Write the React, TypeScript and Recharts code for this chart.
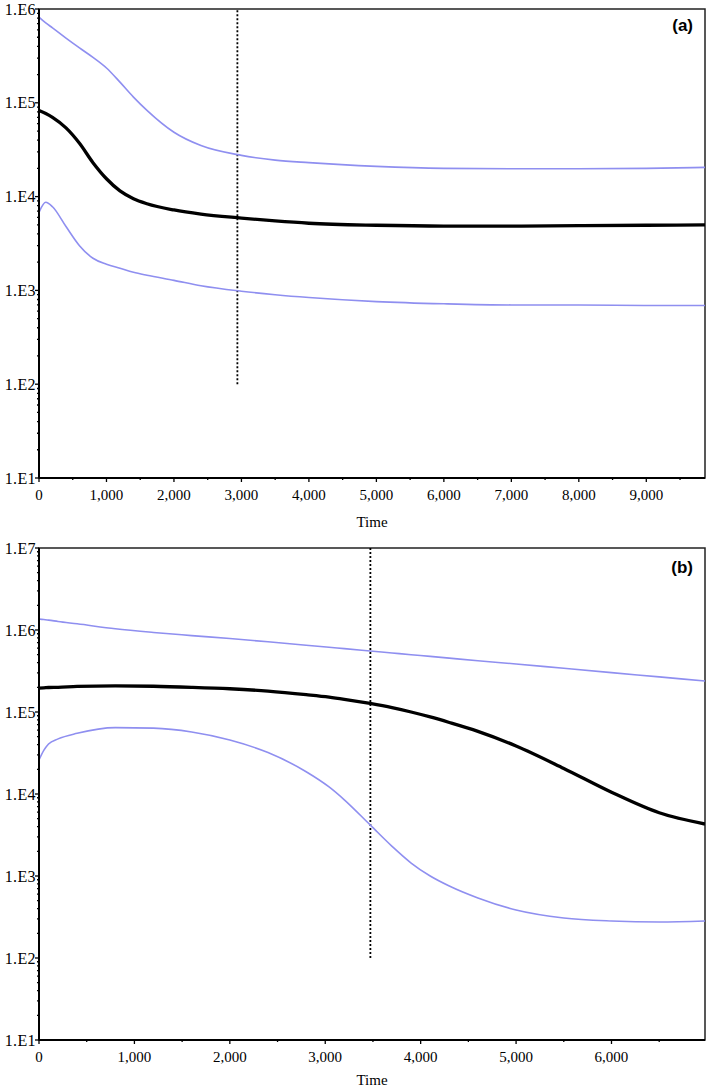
import React from "react";
import { LineChart, Line, XAxis, YAxis, ReferenceLine, ReferenceArea } from "recharts";

// panel (a)
const timeA = [0, 100, 200, 400, 600, 800, 1000, 1200, 1400, 1600, 2000, 2400, 3000, 3500, 4000, 5000, 6000, 7000, 8000, 9000, 9870];
const upperA = [820000, 710000, 630000, 490000, 385000, 305000, 235000, 166000, 115000, 83000, 48500, 35000, 27500, 24500, 23000, 21000, 20000, 19800, 19800, 20000, 20500];
const meanA = [83000, 77000, 70000, 54000, 37000, 23000, 15500, 11500, 9500, 8400, 7200, 6500, 5900, 5500, 5200, 4950, 4850, 4850, 4900, 4950, 5000];
const lowerA = [6800, 8700, 7800, 4800, 3000, 2200, 1900, 1720, 1560, 1450, 1280, 1120, 980, 900, 840, 760, 720, 700, 700, 690, 690];
const xTicksA = [0, 1000, 2000, 3000, 4000, 5000, 6000, 7000, 8000, 9000];
const xMaxA = 9870;
const markerA = 2940;

// panel (b)
const timeB = [0, 50, 100, 200, 400, 800, 1200, 1600, 2000, 2400, 2800, 3040, 3200, 3470, 3700, 3900, 4100, 4300, 4600, 5000, 5500, 6000, 6500, 6980];
const upperB = [1360000, 1340000, 1320000, 1270000, 1190000, 1035000, 933000, 855000, 786000, 718000, 653000, 615000, 593000, 555000, 525000, 500000, 477000, 454000, 422000, 385000, 341000, 302000, 268000, 239000];
const meanB = [196000, 197000, 199000, 200000, 205000, 208000, 206000, 200000, 192000, 180000, 163000, 152000, 143000, 127000, 113000, 100000, 87000, 74500, 58000, 38500, 20500, 10500, 5900, 4300];
const lowerB = [26000, 34000, 40700, 47000, 55000, 64500, 63500, 57000, 45500, 32000, 18700, 12200, 8500, 4200, 2300, 1440, 1000, 755, 540, 385, 308, 283, 275, 283];
const xTicksB = [0, 1000, 2000, 3000, 4000, 5000, 6000];
const xMaxB = 6980;
const markerB = 3473;

const yMajorA = [10, 100, 1000, 10000, 100000, 1000000];
const yMajorB = [10, 100, 1000, 10000, 100000, 1000000, 10000000];

const serif = "'Liberation Serif', 'Times New Roman', serif";
const blue = "#8f8ff0";

const withMinor = (majors: number[]) => {
	const out: number[] = [];
	majors.forEach((m, i) => {
		out.push(m);
		if (i < majors.length - 1) for (let k = 2; k <= 9; k++) out.push(m * k);
	});
	return out;
};

const withHalf = (majors: number[], max: number) => {
	const out: number[] = [];
	majors.forEach((m) => {
		out.push(m);
		if (m + 500 < max) out.push(m + 500);
	});
	return out;
};

const YTick = (props: any) => {
	const { x, y, payload } = props;
	const v = payload.value;
	const e = Math.round(Math.log10(v));
	const major = Math.abs(v - Math.pow(10, e)) < v * 1e-6;
	return (
		<g>
			<line x1={x - (major ? 4 : 2)} x2={x} y1={y} y2={y} stroke="#000" strokeWidth={1.3} />
			{major && (
				<text x={x - 3} y={y} dy="0.35em" textAnchor="end" fontFamily={serif} fontSize={16} letterSpacing={0.4} fill="#000">
					{`1.E${e}`}
				</text>
			)}
		</g>
	);
};

const XTick = (props: any) => {
	const { x, y, payload } = props;
	const v = payload.value;
	const major = v % 1000 === 0;
	return (
		<g>
			<line x1={x} x2={x} y1={y} y2={y + (major ? 4 : 2)} stroke="#000" strokeWidth={1.3} />
			{major && (
				<text x={x} y={y + 17} dy="0.35em" textAnchor="middle" fontFamily={serif} fontSize={15} fill="#000">
					{v.toLocaleString("en-US")}
				</text>
			)}
		</g>
	);
};

const Panel: React.FC<{
	time: number[];
	upper: number[];
	mean: number[];
	lower: number[];
	xTicks: number[];
	xMax: number;
	yMajor: number[];
	marker: number;
	height: number;
	top: number;
	axisHeight: number;
	labelOffset: number;
}> = (p) => {
	const data = p.time.map((t, i) => ({ time: t, upper: p.upper[i], mean: p.mean[i], lower: p.lower[i] }));
	const yMax = p.yMajor[p.yMajor.length - 1];
	return (
		<LineChart width={709} height={p.height} data={data} margin={{ top: p.top, right: 4, left: 0, bottom: 0 }}>
			<XAxis
				dataKey="time"
				type="number"
				domain={[0, p.xMax]}
				allowDataOverflow
				ticks={withHalf(p.xTicks, p.xMax)}
				interval={0}
				tick={<XTick />}
				tickLine={false}
				tickSize={0}
				tickMargin={0}
				height={p.axisHeight}
				axisLine={{ stroke: "#000", strokeWidth: 2 }}
				label={{ value: "Time", position: "insideBottom", offset: p.labelOffset, fill: "#000", fontSize: 15, fontFamily: serif }}
			/>
			<YAxis
				scale="log"
				domain={[10, yMax]}
				allowDataOverflow
				ticks={withMinor(p.yMajor)}
				interval={0}
				tick={<YTick />}
				tickLine={false}
				tickSize={0}
				tickMargin={0}
				width={39}
				axisLine={{ stroke: "#000", strokeWidth: 2 }}
			/>
			<ReferenceArea x1={0} x2={p.xMax} y1={10} y2={yMax} fill="none" stroke="#222" strokeWidth={1.5} />
			<ReferenceLine
				segment={[
					{ x: p.marker, y: 100 },
					{ x: p.marker, y: yMax },
				]}
				stroke="#000"
				strokeWidth={1.8}
				strokeDasharray="2 2"
			/>
			<Line type="monotone" dataKey="upper" stroke={blue} strokeWidth={1.6} dot={false} isAnimationActive={false} />
			<Line type="monotone" dataKey="lower" stroke={blue} strokeWidth={1.6} dot={false} isAnimationActive={false} />
			<Line type="monotone" dataKey="mean" stroke="#000" strokeWidth={3.3} dot={false} isAnimationActive={false} />
		</LineChart>
	);
};

const tagStyle: React.CSSProperties = {
	position: "absolute",
	right: 16,
	fontFamily: "'Liberation Sans', Arial, sans-serif",
	fontWeight: "bold",
	fontSize: 17,
	lineHeight: "17px",
	color: "#000",
};

export default function App() {
	return (
		<div style={{ position: "absolute", left: 0, top: 0, width: 709, height: 1090, background: "#fff" }}>
			<div style={{ position: "absolute", left: 0, top: 0 }}>
				<Panel time={timeA} upper={upperA} mean={meanA} lower={lowerA} xTicks={xTicksA} xMax={xMaxA} yMajor={yMajorA} marker={markerA} height={540} top={9} axisHeight={62} labelOffset={13} />
			</div>
			<div style={{ position: "absolute", left: 0, top: 540 }}>
				<Panel time={timeB} upper={upperB} mean={meanB} lower={lowerB} xTicks={xTicksB} xMax={xMaxB} yMajor={yMajorB} marker={markerB} height={550} top={8} axisHeight={50} labelOffset={5} />
			</div>
			<div style={{ ...tagStyle, top: 17 }}>(a)</div>
			<div style={{ ...tagStyle, top: 559 }}>(b)</div>
		</div>
	);
}
